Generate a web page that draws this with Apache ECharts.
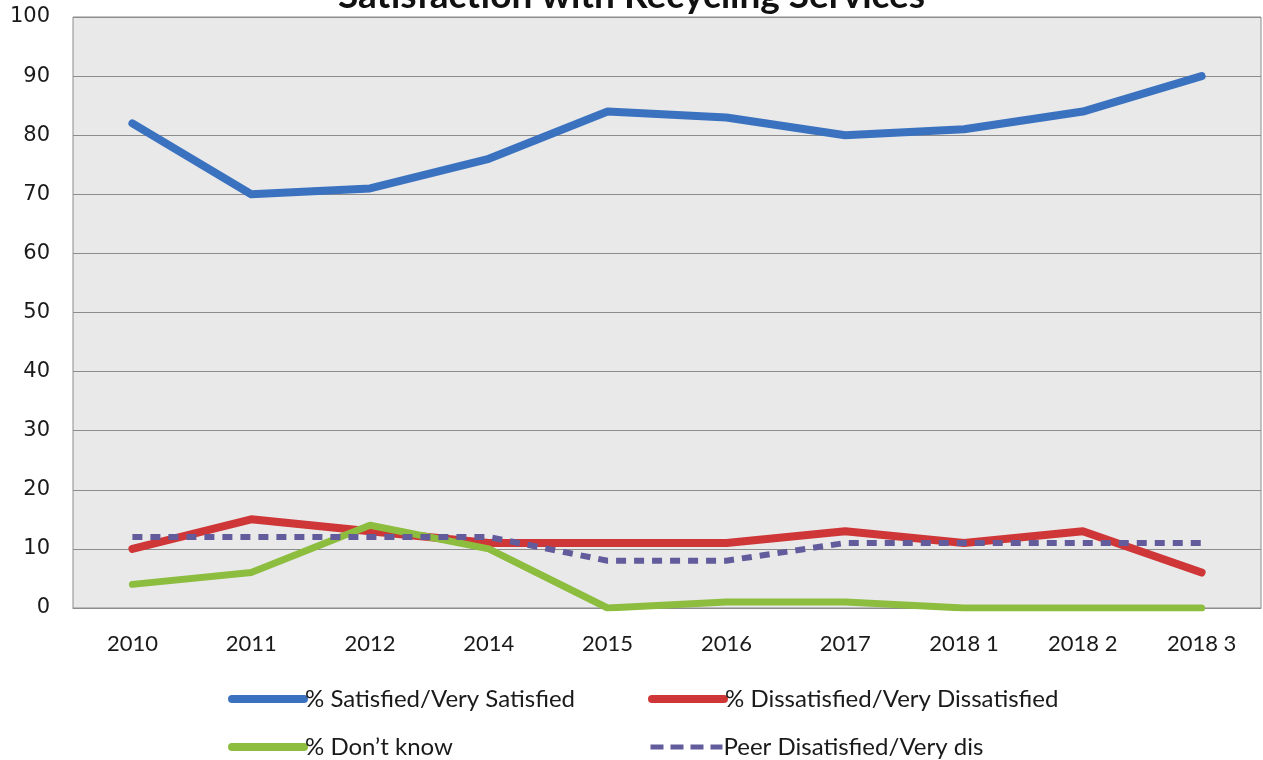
<!DOCTYPE html>
<html>
<head>
<meta charset="utf-8">
<script src="https://cdn.jsdelivr.net/npm/echarts@6/dist/echarts.min.js"></script>
<style>
  html, body { margin: 0; padding: 0; background: #ffffff; }
  #chart { width: 1263px; height: 760px; }
</style>
</head>
<body>
<div id="chart"></div>
<script>
// Survey periods along the x axis
var categories = ['2010', '2011', '2012', '2014', '2015', '2016', '2017', '2018 1', '2018 2', '2018 3'];

// Percentages per period
var satisfied    = [82, 70, 71, 76, 84, 83, 80, 81, 84, 90];
var dissatisfied = [10, 15, 13, 11, 11, 11, 13, 11, 13, 6];
var dontKnow     = [4, 6, 14, 10, 0, 1, 1, 0, 0, 0];
var peerDis      = [12, 12, 12, 12, 8, 8, 11, 11, 11, 11];

var seriesNames = [
  '% Satisfied/Very Satisfied',
  '% Dissatisfied/Very Dissatisfied',
  '% Don\u2019t know',
  'Peer Disatisfied/Very dis'
];

var chart = echarts.init(document.getElementById('chart'));

var labelFont = 'Lato, "Open Sans", sans-serif';

function legendAt(name, left, top, dashed) {
  return {
    data: [name],
    left: left,
    top: top,
    itemWidth: 72,
    itemHeight: 14,
    itemGap: 2,
    selectedMode: false,
    itemStyle: { opacity: 0 },
    lineStyle: dashed ? { width: 5, type: [13, 7], cap: 'butt' } : { width: 8, cap: 'round' },
    textStyle: { fontFamily: labelFont, fontSize: 24, color: '#1a1a1a', padding: [0, 0, 0, -4] }
  };
}

chart.setOption({
  animation: false,
  backgroundColor: '#ffffff',
  title: {
    text: 'Satisfaction with Recycling Services',
    left: 'center',
    top: -27,
    textStyle: { fontFamily: labelFont, fontSize: 37, fontWeight: 'bold', color: '#111' }
  },
  grid: {
    left: 73, right: 2, top: 17, bottom: 152,
    show: true,
    backgroundColor: '#e9e9e9',
    borderColor: '#8c8c8c',
    borderWidth: 1
  },
  legend: [
    legendAt(seriesNames[0], 223, 682, false),
    legendAt(seriesNames[1], 643, 682, false),
    legendAt(seriesNames[2], 223, 730, false),
    legendAt(seriesNames[3], 643, 730, true)
  ],
  xAxis: {
    type: 'category',
    data: categories,
    boundaryGap: true,
    axisLine: { show: true, lineStyle: { color: '#8c8c8c' } },
    axisTick: { show: false },
    axisLabel: { fontFamily: labelFont, fontSize: 22, color: '#1a1a1a', margin: 25 }
  },
  yAxis: {
    type: 'value',
    min: 0, max: 100, interval: 10,
    axisLine: { show: false },
    axisTick: { show: false },
    axisLabel: { fontFamily: '"DejaVu Sans", sans-serif', fontSize: 21, color: '#1a1a1a', margin: 23 },
    splitLine: { lineStyle: { color: '#8c8c8c', width: 1 } }
  },
  series: [
    {
      name: seriesNames[0], type: 'line', data: satisfied, symbol: 'none',
      lineStyle: { color: '#3b72c0', width: 8, cap: 'round', join: 'round' },
      itemStyle: { color: '#3b72c0' }
    },
    {
      name: seriesNames[1], type: 'line', data: dissatisfied, symbol: 'none',
      lineStyle: { color: '#cf3637', width: 8, cap: 'round', join: 'round' },
      itemStyle: { color: '#cf3637' }
    },
    {
      name: seriesNames[2], type: 'line', data: dontKnow, symbol: 'none',
      lineStyle: { color: '#8dbd3e', width: 7, cap: 'round', join: 'round' },
      itemStyle: { color: '#8dbd3e' }
    },
    {
      name: seriesNames[3], type: 'line', data: peerDis, symbol: 'none',
      lineStyle: { color: '#625c9c', width: 6, type: [10, 8], join: 'round' },
      itemStyle: { color: '#625c9c' }
    }
  ]
});
</script>
</body>
</html>
